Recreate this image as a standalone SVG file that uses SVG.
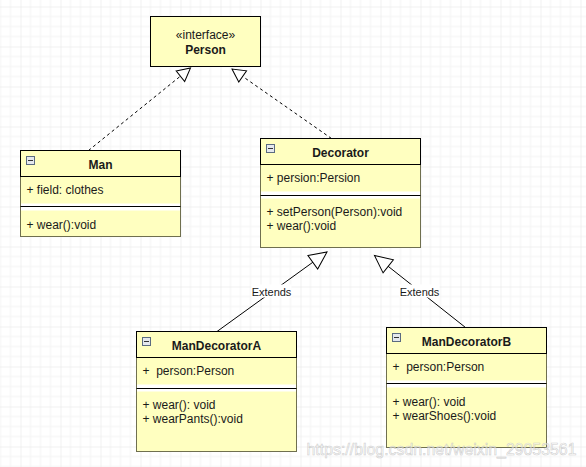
<svg xmlns="http://www.w3.org/2000/svg" width="586" height="467" viewBox="0 0 586 467">
<defs>
<style>
.box{fill:#ffffc0;stroke:#000;stroke-width:1}
.body{fill:#ffffc0;stroke:#6f6f4f;stroke-width:1}
.band{fill:#fff;stroke:none}
.sep{stroke:#000;stroke-width:1}
.t{font-family:"Liberation Sans",Arial,sans-serif;font-size:12px;fill:#1a1a1a}
.b{font-weight:bold;text-anchor:middle}
.c{text-anchor:middle}
.lbl{font-family:"Liberation Sans",Arial,sans-serif;font-size:11px;fill:#1a1a1a;text-anchor:middle}
.icon{fill:#e4e8ee;stroke:#5b6b80;stroke-width:1}
.dash{fill:none;stroke:#000;stroke-width:1;stroke-dasharray:3 3}
.solid{fill:none;stroke:#000;stroke-width:1}
.wm{font-family:"Liberation Sans",Arial,sans-serif;font-size:16px;fill:#ffffff;fill-opacity:0.55;stroke:#b8b8b8;stroke-opacity:0.7;stroke-width:0.6}
</style>
<pattern id="grid" patternUnits="userSpaceOnUse" x="20" y="6" width="40" height="40">
<path d="M10,0V40M20,0V40M30,0V40M0,10H40M0,20H40M0,30H40" stroke="#f3f3f3" stroke-width="1" fill="none"/>
<path d="M0,0V40M0,0H40" stroke="#e4e4e4" stroke-width="1" fill="none"/>
</pattern>
<marker id="tri" markerUnits="userSpaceOnUse" orient="auto" markerWidth="16" markerHeight="16" refX="13" refY="7" overflow="visible">
<path d="M0,0.2 L13,7 L0,13.8 Z" fill="#fff" stroke="#000" stroke-width="1" stroke-dasharray="none"/>
</marker>
<marker id="triL" markerUnits="userSpaceOnUse" orient="auto" markerWidth="20" markerHeight="20" refX="17.5" refY="8.3" overflow="visible">
<path d="M0,0 L17.5,8.3 L0,16.6 Z" fill="#fff" stroke="#000" stroke-width="1" stroke-dasharray="none"/>
</marker>
</defs>
<rect width="586" height="467" fill="#fff"/>
<g transform="translate(0.5,0.5)">
<rect x="-1" y="-1" width="588" height="469" fill="url(#grid)"/>

<g id="connectors">
<path class="dash" d="M88,150 L190,67.5" marker-end="url(#tri)"/>
<path class="dash" d="M331,138 L231.5,68.5" marker-end="url(#tri)"/>
<path class="solid" d="M216.5,331 L326.5,251.5" marker-end="url(#triL)"/>
<path class="solid" d="M465,327 L374,255" marker-end="url(#triL)"/>
<rect x="251" y="284" width="40" height="13" fill="#fff"/>
<text class="lbl" x="271" y="295">Extends</text>
<rect x="399" y="284" width="40" height="13" fill="#fff"/>
<text class="lbl" x="419" y="295">Extends</text>
</g>

<g id="person">
<rect class="box" x="150" y="16" width="110" height="50"/>
<text class="t c" x="205" y="38.5">«interface»</text>
<text class="t b" x="205" y="53">Person</text>
</g>

<g id="man">
<rect class="body" x="20" y="150" width="160" height="86"/>
<rect class="band" x="20.5" y="203" width="159" height="7"/>
<line class="sep" x1="20" y1="206" x2="180" y2="206"/>
<rect class="box" x="20" y="150" width="160" height="26"/>
<rect class="icon" x="26" y="156" width="8" height="8"/>
<line x1="27.5" y1="160" x2="32.5" y2="160" stroke="#333" stroke-width="1"/>
<text class="t b" x="100" y="168">Man</text>
<text class="t" x="26" y="193">+ field: clothes</text>
<text class="t" x="26" y="228">+ wear():void</text>
</g>

<g id="decorator">
<rect class="body" x="260" y="138" width="160" height="109"/>
<rect class="band" x="260.5" y="191" width="159" height="7"/>
<line class="sep" x1="260" y1="195" x2="420" y2="195"/>
<rect class="box" x="260" y="138" width="160" height="26"/>
<rect class="icon" x="266" y="144" width="8" height="8"/>
<line x1="267.5" y1="148" x2="272.5" y2="148" stroke="#333" stroke-width="1"/>
<text class="t b" x="340" y="156.5">Decorator</text>
<text class="t" x="266" y="181.5">+ persion:Persion</text>
<text class="t" x="266" y="215">+ setPerson(Person):void</text>
<text class="t" x="266" y="229.5">+ wear():void</text>
</g>

<g id="manDecoratorA">
<rect class="body" x="136" y="331" width="160" height="120"/>
<rect class="band" x="136.5" y="384" width="159" height="7"/>
<line class="sep" x1="136" y1="388" x2="296" y2="388"/>
<rect class="box" x="136" y="331" width="160" height="26"/>
<rect class="icon" x="142" y="337" width="8" height="8"/>
<line x1="143.5" y1="341" x2="148.5" y2="341" stroke="#333" stroke-width="1"/>
<text class="t b" x="216" y="349.5">ManDecoratorA</text>
<text class="t" x="142" y="374.5" xml:space="preserve">+  person:Person</text>
<text class="t" x="142" y="408.5">+ wear(): void</text>
<text class="t" x="142" y="422.5">+ wearPants():void</text>
</g>

<g id="manDecoratorB">
<rect class="body" x="386" y="327" width="160" height="120"/>
<rect class="band" x="386.5" y="380" width="159" height="7"/>
<line class="sep" x1="386" y1="383" x2="546" y2="383"/>
<rect class="box" x="386" y="327" width="160" height="26"/>
<rect class="icon" x="392" y="333" width="8" height="8"/>
<line x1="393.5" y1="337" x2="398.5" y2="337" stroke="#333" stroke-width="1"/>
<text class="t b" x="466" y="345.5">ManDecoratorB</text>
<text class="t" x="392" y="370.5" xml:space="preserve">+  person:Person</text>
<text class="t" x="392" y="405">+ wear(): void</text>
<text class="t" x="392" y="419">+ wearShoes():void</text>
</g>

<text class="wm" x="306" y="454" textLength="270" lengthAdjust="spacingAndGlyphs">https://blog.csdn.net/weixin_29053561</text>
</g>
</svg>
